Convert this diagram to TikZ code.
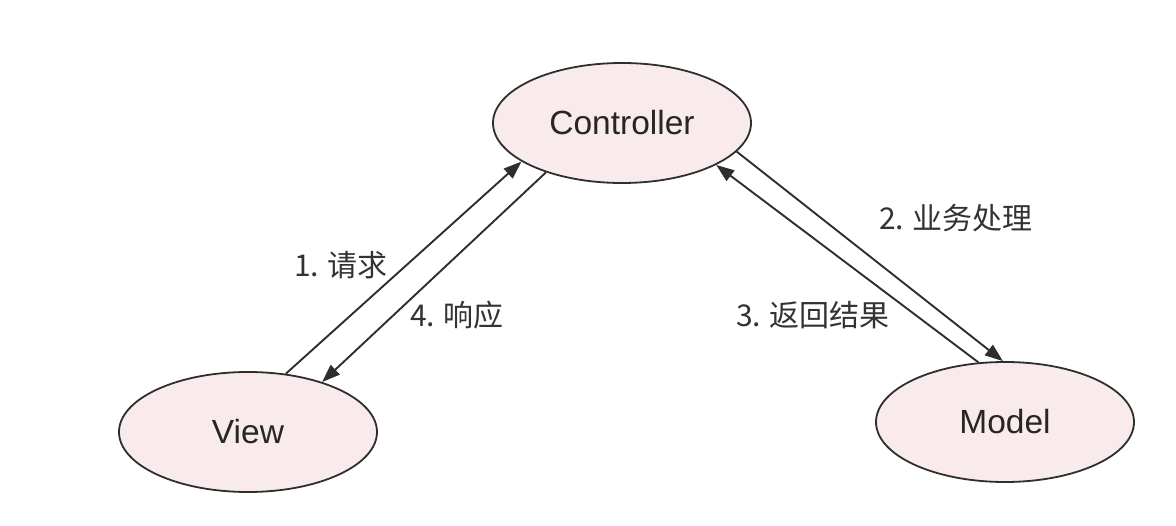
\documentclass[tikz,border=0pt]{standalone}
\usepackage{fontspec}
\setmainfont{Liberation Sans}
\newfontfamily\cjk{Noto Sans CJK SC}
\usetikzlibrary{shapes.geometric,arrows.meta}
\definecolor{fillpink}{HTML}{F9EBEB}
\definecolor{strokegray}{HTML}{2E2E2E}
\tikzset{
  mvc/.style={ellipse, draw=strokegray, line width=1.8pt, fill=fillpink,
    minimum width=258pt, minimum height=120pt, inner sep=0pt,
    font=\fontsize{33.5}{38}\selectfont, text=black!85},
  conn/.style={draw=strokegray, line width=1.9pt,
    -{Triangle[length=18pt,width=13pt]}},
  lbl/.style={font=\cjk\fontsize{30}{34}\selectfont, text=black!80, inner sep=0pt}
}
\begin{document}
\begin{tikzpicture}[x=1pt,y=-1pt]
\useasboundingbox (0,0) rectangle (1176,526);
\node[mvc] (ctrl) at (622,123) {Controller};
\node[mvc] (view) at (248,432) {View};
\node[mvc] (model) at (1005,422) {Model};
\draw[conn] (view.57) -- (ctrl.-159.4);
\draw[conn] (ctrl.-147) -- (view.34.7);
\draw[conn] (ctrl.-14.3) -- (model.92);
\draw[conn] (model.114) -- (ctrl.-24);
\node[lbl] (l1) at (341,265) {1. 请求};
\node[lbl] (l4) at (457,315) {4. 响应};
\node[lbl] (l2) at (956,218) {2. 业务处理};
\node[lbl] (l3) at (813,315) {3. 返回结果};
\end{tikzpicture}
\end{document}
